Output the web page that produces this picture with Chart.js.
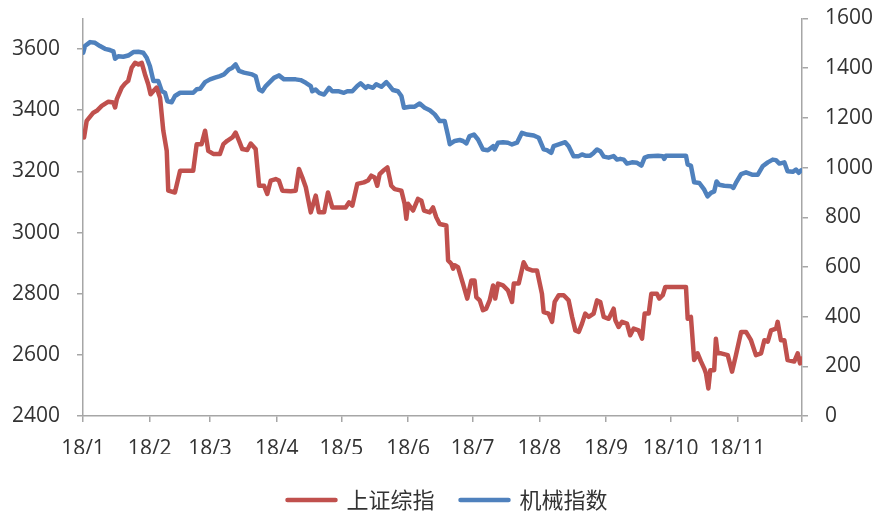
<!DOCTYPE html>
<html><head><meta charset="utf-8">
<script src="https://cdn.jsdelivr.net/npm/chart.js@4/dist/chart.umd.min.js"></script>
<style>html,body{margin:0;padding:0;background:#fff}canvas{display:block}</style>
</head><body>
<canvas id="c" width="879" height="512"></canvas>
<script>
const seriesNames = ['上证综指', '机械指数'];
const monthStarts = [0,31,59,90,120,151,181,212,243,273,304,334];
const monthLabels = ['18/1','18/2','18/3','18/4','18/5','18/6','18/7','18/8','18/9','18/10','18/11',''];
const leftTickMax = 3600;

const shDays = [0.5,1.7,4.8,6.4,8.7,11.8,14.1,14.9,15.7,18,
19.5,21,22.6,24.2,25.7,27.3,28.8,30.3,31.4,32.7,
34.2,35.8,37.3,38.9,39.6,42.7,45.1,51.2,52.8,55.1,
56.7,58.2,60.5,63.6,65.2,67,69.4,70.9,72.5,74,
76.3,77.9,80.2,81.8,84.1,85.6,87.2,89.5,91,92.6,
96.5,98.8,100.3,101.9,103.5,105.8,108.1,109.6,112,113.8,
115.8,122,123.6,125.1,127.4,130.5,132.4,133.9,135.5,136.7,
137.8,139.4,141.4,143.2,144.8,147.9,149.4,150.2,151,153.3,
155.6,157.2,158.4,161.1,162.6,164.1,165.7,168.8,169.6,171.1,
171.9,172.7,174.2,176.5,178.5,180.4,181.9,182.7,184.3,185.8,
187.3,188.9,190.5,191.5,192.8,195.1,197.4,199.3,200.1,202.4,
204.7,206.3,208.6,210.9,213.2,214,216.3,217.9,219.1,221,
223.3,225.6,227.2,228.7,230.3,231.8,233.3,234.9,237.2,238.8,
240.3,241.9,244.2,246.5,247.3,248.8,250.4,252.7,254.2,255.8,
258.1,259.7,260.9,262.8,264,266.6,267.7,269.3,270.5,280.1,
280.9,282.4,283.9,285.5,287.1,288.6,289.4,290.5,291.4,293.2,
294,294.8,296.4,299.5,301.5,303.3,305.7,308,310.3,312.6,
315,316.5,318.1,319.6,322,322.7,324.2,325.8,327.3,330.4,
332,333.1,334];
const shVals = [3311,3365,3392,3398,3414,3428,3425,3409,3436,3474,
3487,3496,3539,3555,3550,3555,3517,3485,3452,3463,
3474,3441,3333,3267,3137,3131,3202,3202,3289,3289,
3333,3267,3257,3257,3289,3300,3311,3327,3300,3273,
3270,3291,3273,3153,3153,3126,3170,3175,3170,3137,
3135,3137,3208,3180,3148,3066,3121,3066,3066,3131,
3082,3082,3099,3088,3159,3164,3170,3186,3180,3153,
3191,3202,3213,3153,3142,3137,3094,3045,3094,3072,
3110,3104,3072,3066,3082,3050,3028,3023,2909,2898,
2882,2893,2887,2833,2784,2843,2843,2789,2778,2746,
2751,2778,2827,2784,2833,2827,2811,2773,2833,2833,
2903,2882,2876,2876,2800,2740,2735,2708,2773,2795,
2795,2778,2724,2680,2675,2702,2735,2724,2735,2778,
2773,2724,2718,2751,2713,2691,2708,2702,2664,2686,
2680,2653,2735,2735,2800,2800,2784,2795,2822,2822,
2718,2724,2583,2605,2578,2555,2539,2490,2550,2550,
2653,2605,2605,2599,2545,2599,2675,2675,2648,2599,
2605,2648,2643,2680,2686,2708,2648,2648,2583,2578,
2605,2572,2588];

const jxDays = [0.1,0.9,3.3,5.6,7.9,10.2,12.5,14.1,14.9,16.4,
18.7,21,23.4,25.7,28,29.6,31.1,32.7,35,36.6,
38.1,39.2,41.2,42.7,45.1,51.2,52.8,54.4,56.7,59,
61.3,63.6,65.5,67.8,69.4,70.9,72.5,74.8,78.6,80.2,
81.8,83.3,84.9,86.4,88.7,91,93.4,98.8,101.1,103.5,
105.8,106.5,108.1,109.6,112,114.3,115.8,118.9,121.2,122.8,
125.1,127.4,129,131.3,132.4,134.7,136.2,138.6,140.9,142.5,
144,146.3,147.9,149.1,151.8,154.1,156.4,158.7,161.1,163.4,
165.7,168,169.6,170.4,172.7,175,176.5,178.1,179.6,181.6,
183.5,185.8,188.1,190.5,191.2,192.8,195.1,197.4,199.3,201.6,
203.9,206.3,209.4,211.7,214,215.5,217.5,218.6,221,224,
225.6,227.9,230.3,231.8,233.3,235.6,237.2,238.8,240.3,241.9,
244.2,246.5,248.1,249.6,251.2,252.7,255,257.4,259.4,260.9,
262.8,267.1,269.3,270,270.8,280.1,280.9,282.4,283.9,286.3,
288.6,290.1,291.7,293.2,294.3,295.5,297.9,301,302.1,303.3,
305.7,308,311.1,313.4,315.7,318.1,320.4,321.9,323.5,325.8,
327.3,329.7,331.2,332.5,333.6];
const jxVals = [1462,1489,1505,1502,1489,1478,1473,1468,1438,1448,
1446,1451,1465,1466,1462,1442,1408,1348,1348,1307,
1301,1267,1263,1288,1301,1301,1315,1317,1344,1355,
1362,1368,1375,1395,1402,1415,1389,1382,1375,1368,
1314,1307,1328,1341,1361,1371,1355,1355,1352,1341,
1328,1307,1314,1301,1294,1321,1307,1307,1301,1307,
1307,1328,1339,1321,1328,1321,1335,1325,1344,1328,
1312,1307,1288,1241,1245,1245,1258,1241,1231,1214,
1187,1187,1127,1094,1107,1111,1107,1097,1127,1133,
1113,1073,1070,1086,1073,1100,1102,1100,1093,1100,
1140,1133,1129,1120,1073,1070,1059,1086,1093,1102,
1086,1046,1046,1053,1048,1048,1059,1073,1066,1044,
1040,1046,1032,1035,1032,1016,1021,1019,1008,1040,
1046,1048,1046,1035,1048,1048,1012,1008,941,938,
911,884,898,904,944,931,927,925,918,938,
974,981,971,971,1005,1021,1032,1030,1016,1021,
985,983,992,979,989];

const RED = '#C0504D', BLUE = '#4F81BD';
const AXIS = '#a6a6a6', TXT = '#333333';
const tickFont = {family: "'Open Sans', 'Liberation Sans', sans-serif", size: 21};

function pts(days, vals) { return days.map((d, i) => ({x: d, y: vals[i]})); }

const legendShift = {
  id: 'legendShift',
  afterLayout(chart) {
    const l = chart.legend;
    if (l) { l.top += 9; l.bottom += 9; l.left += 8; l.right += 8; }
  }
};

function noPad(s) { s.paddingTop = 0; s.paddingBottom = 0; }

new Chart(document.getElementById('c'), {
  type: 'line',
  data: {
    datasets: [
      {label: seriesNames[0], data: pts(shDays, shVals), yAxisID: 'y',
       borderColor: RED, backgroundColor: RED, borderWidth: 4.5,
       pointRadius: 0, tension: 0, borderJoinStyle: 'round', borderCapStyle: 'round'},
      {label: seriesNames[1], data: pts(jxDays, jxVals), yAxisID: 'y1',
       borderColor: BLUE, backgroundColor: BLUE, borderWidth: 4.5,
       pointRadius: 0, tension: 0, borderJoinStyle: 'round', borderCapStyle: 'round'}
    ]
  },
  options: {
    responsive: false,
    animation: false,
    devicePixelRatio: 1,
    layout: {padding: {top: 18.5, left: 0, right: 0, bottom: 0}},
    plugins: {
      tooltip: {enabled: false},
      legend: {
        position: 'bottom',
        labels: {
          boxWidth: 48, boxHeight: 0, padding: 26, color: TXT,
          font: {family: "'Noto Sans CJK SC', sans-serif", size: 22}
        }
      }
    },
    scales: {
      x: {
        type: 'linear', position: 'bottom', min: 0, max: 334,
        afterBuildTicks: (s) => { s.ticks = monthStarts.map(v => ({value: v})); },
        afterFit: (s) => { s.height = 38; s.paddingLeft = 0; s.paddingRight = 0; },
        ticks: {
          autoSkip: false, maxRotation: 0, minRotation: 0, padding: 14,
          color: TXT, font: tickFont,
          callback: (v) => { const i = monthStarts.indexOf(v); return i >= 0 ? monthLabels[i] : ''; }
        },
        grid: {drawOnChartArea: false, drawTicks: true, tickLength: 6, color: AXIS, lineWidth: 1.5},
        border: {color: AXIS, width: 1.5}
      },
      y: {
        type: 'linear', position: 'left', min: 2400, max: 3700,
        afterBuildTicks: (s) => { s.ticks = s.ticks.filter(t => t.value <= leftTickMax); },
        afterFit: (s) => { s.width = 83; noPad(s); },
        ticks: {stepSize: 200, padding: 17, color: TXT, font: tickFont, callback: (v) => String(v)},
        grid: {drawOnChartArea: false, drawTicks: true, tickLength: 6, color: AXIS, lineWidth: 1.5},
        border: {color: AXIS, width: 1.5}
      },
      y1: {
        type: 'linear', position: 'right', min: 0, max: 1600,
        afterFit: (s) => { s.width = 77; noPad(s); },
        ticks: {stepSize: 200, padding: 17, color: TXT, font: tickFont, callback: (v) => String(v)},
        grid: {drawOnChartArea: false, drawTicks: true, tickLength: 6, color: AXIS, lineWidth: 1.5},
        border: {color: AXIS, width: 1.5}
      }
    }
  },
  plugins: [legendShift]
});
</script>
</body></html>
